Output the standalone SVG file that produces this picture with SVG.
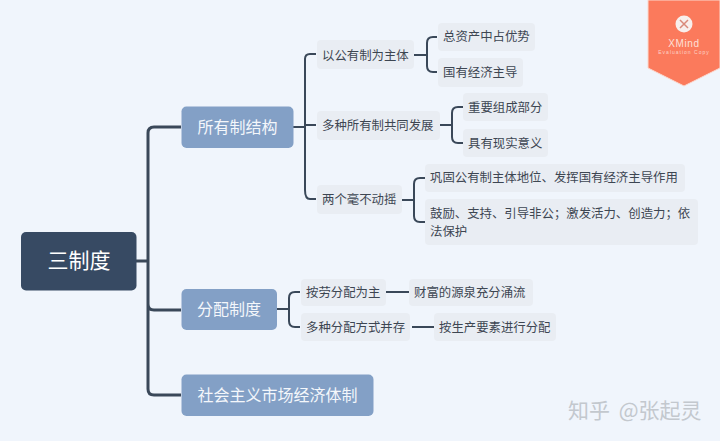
<svg xmlns="http://www.w3.org/2000/svg" width="720" height="441" viewBox="0 0 720 441">
<style>
text{font-family:"Noto Sans CJK SC","Liberation Sans",sans-serif}
.c1{fill:none;stroke:#3a4859;stroke-width:3}
.c2{fill:none;stroke:#3a4859;stroke-width:2}
.root{fill:#374a63}
.main{fill:#83a0c6}
.sub{fill:#e9edf3}
.tm{fill:#f4f7fb;font-size:16px;text-anchor:middle}
.ts{fill:#3d4652;font-size:12.4px}
</style>
<rect width="720" height="441" fill="#f0f5fc"/>
<g id="connectors">
<path class="c1" d="M136 261H148M181 127H154Q148 127 148 133V389Q148 395 154 395H181M148 304Q148 310 154 310H181"/>
<path class="c2" d="M293 127H305M316 54H310Q305 54 305 59V190Q305 199 310 199H316M305 125H316"/>
<path class="c2" d="M414 55H427M437 37H433Q427 37 427 43V66Q427 72 433 72H437"/>
<path class="c2" d="M440 125H452M463 107H458Q452 107 452 113V137Q452 143 458 143H463"/>
<path class="c2" d="M402 200H414M425 178H420Q414 178 414 184V216Q414 222 420 222H425"/>
<path class="c2" d="M277 309H289M300 292H295Q289 292 289 298V321Q289 327 295 327H300"/>
<path class="c2" d="M386 292H409M412 327H434"/>
</g>
<g id="root"><rect class="root" x="21" y="232" width="115.500" height="58.500" rx="5"/><text x="79" y="268" fill="#fff" font-size="21" text-anchor="middle">三制度</text></g>
<g id="n-ownership"><rect class="main" x="181.500" y="106.500" width="112" height="41.500" rx="5"/><text class="tm" x="237.500" y="133">所有制结构</text></g>
<g id="n-distribution"><rect class="main" x="181.500" y="289" width="95.500" height="41" rx="5"/><text class="tm" x="229" y="315">分配制度</text></g>
<g id="n-market"><rect class="main" x="181.500" y="374.500" width="192" height="41.500" rx="5"/><text class="tm" x="277.500" y="401">社会主义市场经济体制</text></g>
<g id="n-a"><rect class="sub" x="317" y="40" width="97" height="29" rx="4"/><text class="ts" x="322" y="60">以公有制为主体</text></g>
<g id="n-a1"><rect class="sub" x="438" y="23" width="97" height="28" rx="4"/><text class="ts" x="443" y="41">总资产中占优势</text></g>
<g id="n-a2"><rect class="sub" x="438" y="58" width="85" height="29" rx="4"/><text class="ts" x="443" y="77">国有经济主导</text></g>
<g id="n-b"><rect class="sub" x="317" y="111" width="123" height="29" rx="4"/><text class="ts" x="322" y="130">多种所有制共同发展</text></g>
<g id="n-b1"><rect class="sub" x="463" y="93" width="85" height="28" rx="4"/><text class="ts" x="468" y="112">重要组成部分</text></g>
<g id="n-b2"><rect class="sub" x="463" y="129" width="85" height="28" rx="4"/><text class="ts" x="468" y="148">具有现实意义</text></g>
<g id="n-c"><rect class="sub" x="317" y="185" width="85" height="29" rx="4"/><text class="ts" x="322" y="204">两个毫不动摇</text></g>
<g id="n-c1"><rect class="sub" x="425" y="164" width="260" height="28" rx="4"/><text class="ts" x="430" y="182">巩固公有制主体地位、发挥国有经济主导作用</text></g>
<g id="n-c2"><rect class="sub" x="425" y="199" width="273" height="46" rx="4"/><text class="ts" x="430" y="217.500">鼓励、支持、引导非公；激发活力、创造力；依</text><text class="ts" x="430" y="235.500">法保护</text></g>
<g id="n-d"><rect class="sub" x="301" y="279" width="85" height="27" rx="4"/><text class="ts" x="306" y="297">按劳分配为主</text></g>
<g id="n-d1"><rect class="sub" x="409" y="279" width="124" height="27" rx="4"/><text class="ts" x="414" y="297">财富的源泉充分涌流</text></g>
<g id="n-e"><rect class="sub" x="301" y="313" width="109" height="28" rx="4"/><text class="ts" x="306" y="332">多种分配方式并存</text></g>
<g id="n-e1"><rect class="sub" x="434" y="313" width="122" height="28" rx="4"/><text class="ts" x="439" y="332">按生产要素进行分配</text></g>
<g id="badge">
<path d="M648 0H720V68L684 86L648 68Z" fill="#fb7a5c" stroke="#fbd9cf" stroke-width="1"/>
<circle cx="684" cy="24" r="8.500" fill="#f8efec"/>
<path d="M680 20L688 28M688 20L680 28" stroke="#d98a7a" stroke-width="1.500" fill="none"/>
<text x="684" y="47" fill="#fde0d8" font-size="10" text-anchor="middle" style="font-family:'Liberation Sans',sans-serif" letter-spacing=".6">XMind</text>
<text x="684" y="54" fill="#fcd3c8" font-size="5" text-anchor="middle" style="font-family:'Liberation Sans',sans-serif" letter-spacing="1">Evaluation Copy</text>
</g>
<g id="watermark"><text x="568" y="418" fill="#c3c8ce" font-size="21" word-spacing="4">知乎 @张起灵</text></g>
</svg>
